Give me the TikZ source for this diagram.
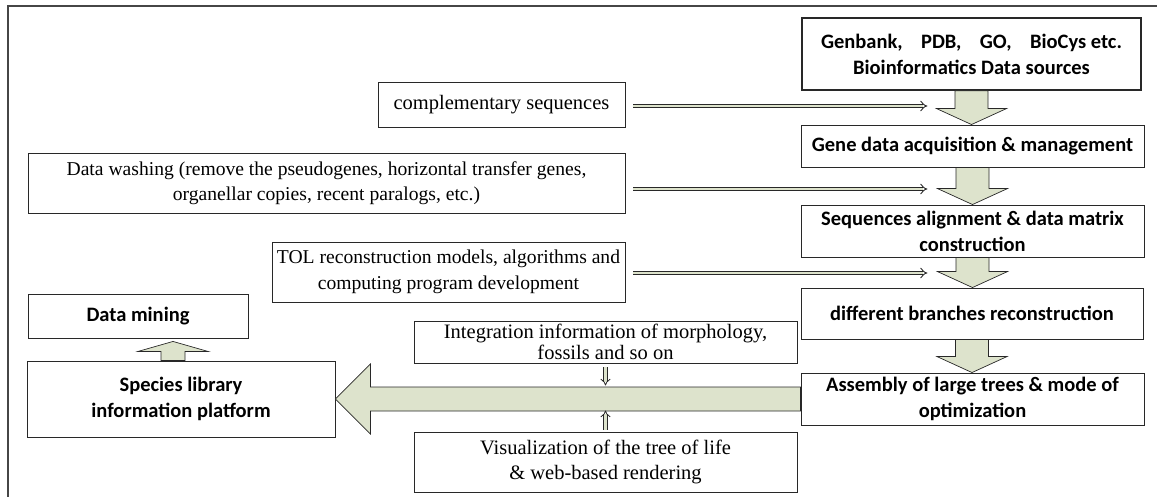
\documentclass[tikz,border=0pt]{standalone}
\usepackage{fontspec}
\setmainfont{Liberation Serif}
\newfontfamily\calfont{Carlito}
\usetikzlibrary{arrows.meta,calc}
\definecolor{arrfill}{RGB}{221,227,204}
\definecolor{boxline}{RGB}{40,40,40}
\definecolor{framecol}{RGB}{70,70,70}
\tikzset{
  sbox/.style={draw=boxline, line width=0.9pt, fill=white, inner sep=0pt, align=center,
    font=\fontsize{20.5}{25.5}\selectfont},
  nbox/.style={sbox, font=\fontsize{19.6}{25.5}\selectfont},
  bbox/.style={sbox, font=\calfont\bfseries\fontsize{20.5}{26}\selectfont},
  blk/.style={draw=boxline, line width=0.7pt, fill=arrfill},
  dbl/.style={draw=boxline, line width=0.9pt, double=arrfill, double distance=2.8pt, -{Implies}},
}
\newcommand{\vdownarr}[2]{%
  \draw[blk] let \p1=(#1.south), \p2=(#2.north) in
    (\x1-16.5pt,\y1) -- (\x1+16.5pt,\y1) -- (\x1+16.5pt,\y2+16pt) -- (\x1+35pt,\y2+16pt)
    -- (\x1,\y2) -- (\x1-35pt,\y2+16pt) -- (\x1-16.5pt,\y2+16pt) -- cycle;}
\begin{document}
\begin{tikzpicture}[x=1pt,y=-1pt]
\useasboundingbox (0,0) rectangle (1157,497);
\draw[framecol, line width=1.4pt] (8,497) -- (8,6) -- (1157,6);

% right column
\node[bbox, line width=1.7pt, minimum width=339pt, minimum height=72pt] (gb) at (971.5,54)
  {Genbank,\hspace{0.9em}PDB,\hspace{0.9em}GO,\hspace{0.9em}BioCys etc.\\Bioinformatics Data sources};
\node[bbox, minimum width=343pt, minimum height=42pt] (gene) at (972.5,146)
  {Gene data acquisition \& management};
\node[bbox, minimum width=343pt, minimum height=52pt] (seq) at (972.5,231)
  {Sequences alignment \& data matrix\\construction};
\node[bbox, minimum width=342pt, minimum height=51pt] (branch) at (972,313.5)
  {different branches reconstruction};
\node[bbox, minimum width=343pt, minimum height=52pt] (asm) at (972.5,399)
  {Assembly of large trees \& mode of\\optimization};

% left / middle boxes
\node[sbox, minimum width=247pt, minimum height=45pt] (comp) at (501.5,104.5)
  {complementary sequences};
\node[nbox, minimum width=597pt, minimum height=60pt] (wash) at (326.5,183)
  {Data washing (remove the pseudogenes, horizontal transfer genes,\\organellar copies, recent paralogs, etc.)};
\node[nbox, minimum width=353pt, minimum height=60pt] (tol) at (448.5,272)
  {TOL reconstruction models, algorithms and\\computing program development};
\node[bbox, minimum width=220pt, minimum height=44pt] (mining) at (138,316)
  {Data mining};
\node[sbox, font=\fontsize{20.5}{20.5}\selectfont, minimum width=383pt, minimum height=42pt] (integ) at (605.5,342)
  {Integration information of morphology,\\fossils and so on};
\node[bbox, minimum width=308pt, minimum height=76pt] (species) at (181,399)
  {Species library\\information platform};
\node[sbox, minimum width=383pt, minimum height=60pt] (vis) at (605.5,462)
  {Visualization of the tree of life\\\& web-based rendering};

% block arrows down the right column
\vdownarr{gb}{gene}
\vdownarr{gene}{seq}
\vdownarr{seq}{branch}
\vdownarr{branch}{asm}

% big left arrow
\draw[blk] let \p1=(asm.west), \p2=(species.east) in
  (\x1,\y1+12pt) -- (\x2+35pt,\y1+12pt) -- (\x2+35pt,\y2+35pt) -- (\x2,\y2)
  -- (\x2+35pt,\y2-35pt) -- (\x2+35pt,\y1-12pt) -- (\x1,\y1-12pt) -- cycle;

% arrow species -> data mining
\coordinate (mbase) at ($(species.north)+(-8,0)$);
\coordinate (mtip) at ($(mining.south)+(35,3)$);
\draw[blk] let \p1=(mbase), \p2=(mtip) in
  (\x1-12pt,\y1) -- (\x1+12pt,\y1) -- (\x1+12pt,\y2-10pt) -- (\x1+35pt,\y2-10pt)
  -- (\x1,\y2) -- (\x1-35pt,\y2-10pt) -- (\x1-12pt,\y2-10pt) -- cycle;

% thin double arrows
\coordinate (e1) at ($(comp.east)+(302,1.5)$);
\coordinate (e2) at ($(wash.east)+(302,6)$);
\coordinate (e3) at ($(tol.east)+(302,1)$);
\draw[dbl] ($(comp.east)+(8,1.5)$) -- (e1);
\draw[dbl] ($(wash.east)+(8,6)$) -- (e2);
\draw[dbl] ($(tol.east)+(8,1)$) -- (e3);

\coordinate (d1) at ($(integ.south)+(0,22)$);
\coordinate (d2) at ($(vis.north)+(0,-21)$);
\draw[dbl, line width=0.8pt, double distance=2.6pt] ($(integ.south)+(0,4)$) -- (d1);
\draw[dbl, line width=0.8pt, double distance=2.6pt] ($(vis.north)+(0,-2)$) -- (d2);
\end{tikzpicture}
\end{document}
